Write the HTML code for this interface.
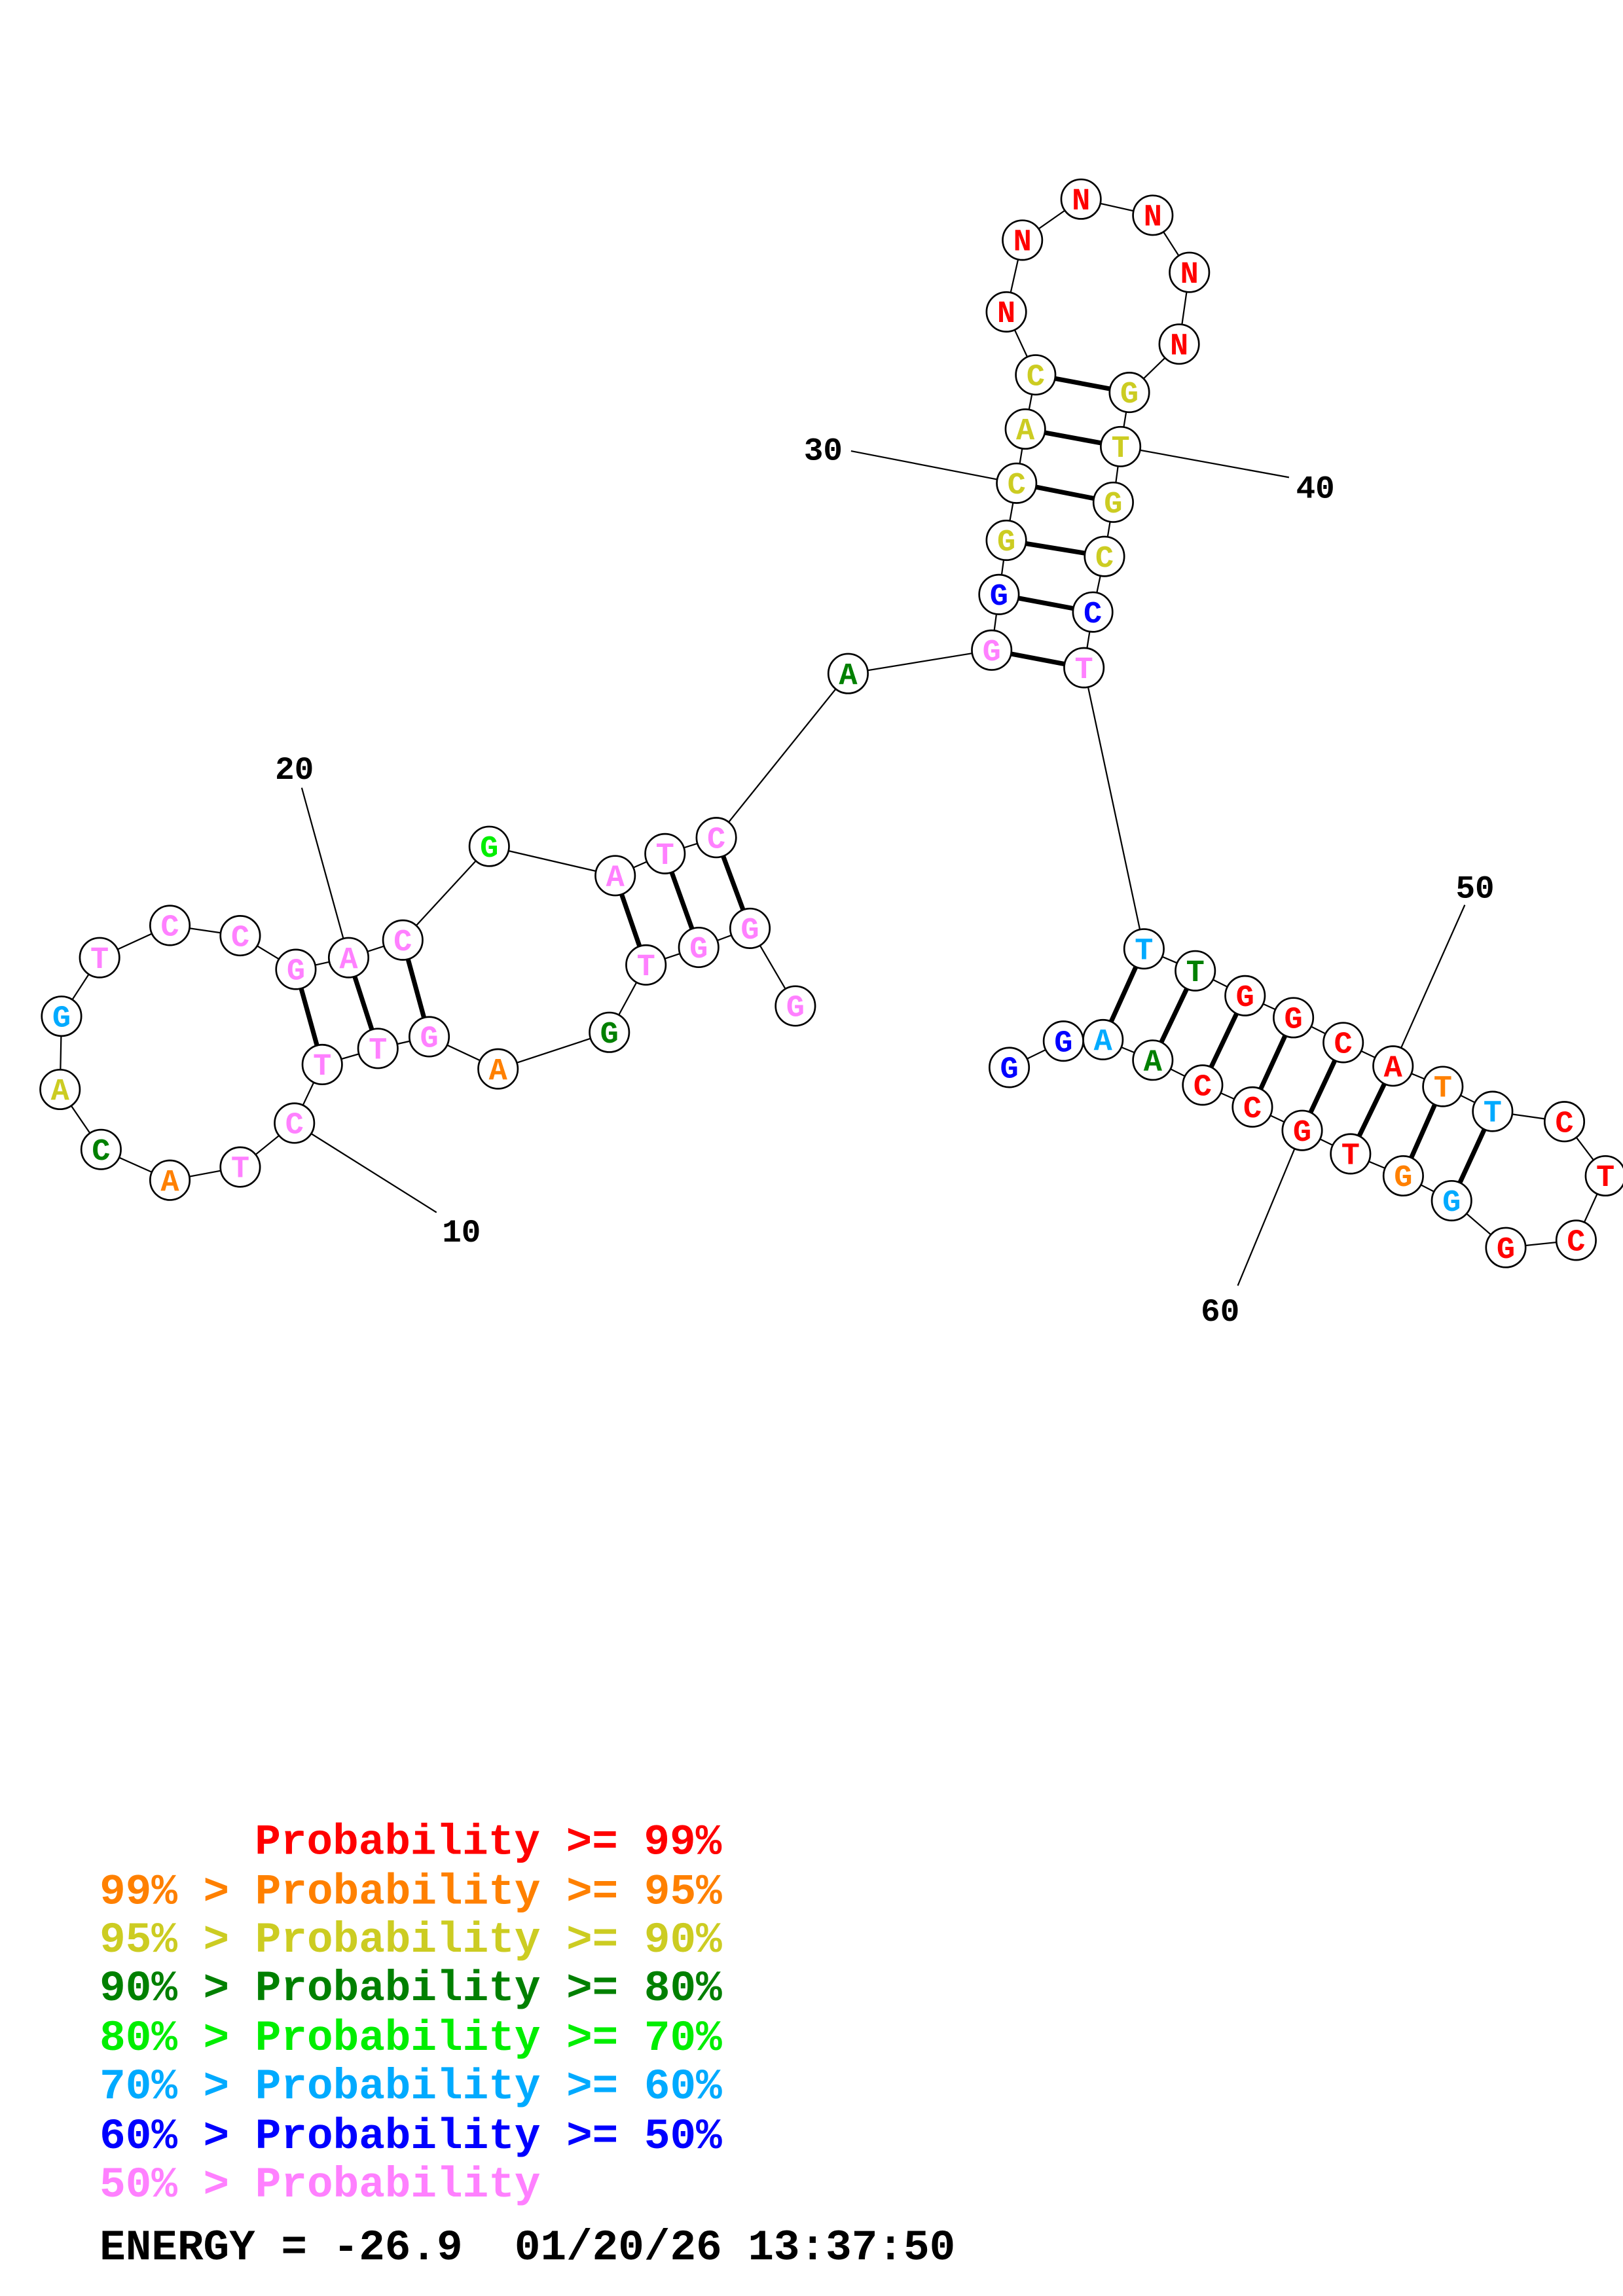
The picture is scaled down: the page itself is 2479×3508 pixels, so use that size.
<!DOCTYPE html>
<html><head><meta charset="utf-8"><style>
html,body{margin:0;padding:0;background:#fff}
svg{display:block}
text{font-family:"Liberation Mono",monospace;font-weight:bold;white-space:pre}
.n circle{fill:#fff;stroke:#000;stroke-width:1.2}
.n text{font-size:21px;text-anchor:middle}
.k{fill:#ff80ff}.r{fill:#ff0000}.o{fill:#ff8000}.y{fill:#cccc22}.d{fill:#008000}.g{fill:#00ee00}.c{fill:#00aaff}.b{fill:#0000ff}
.lg text{font-size:29.5px}
</style></head><body>
<svg width="2479" height="3508" viewBox="0 0 1108 1568" preserveAspectRatio="none" xmlns="http://www.w3.org/2000/svg">
<g stroke="#000" stroke-width="1" fill="none">
<polyline points="543,687 512,634 477,647 441,659 416,705 340,730 293,708 258,716 220,727 201,767 164,797 116,806 69,785 41,744 42,694 68,654 116,632 164,639 202,662 238,654 275,642 334,578 420,598 454,583 489,572 579,460 677,444 682,406 687,369 694,330 700,293 707,256 687,213 698,164 738,136 787,147 812,186 805,235 771,268 765,305 760,343 754,380 746,418 740,456 781,648 816,663 850,680 883,695 917,712 951,728 985,742 1019,759 1068,766 1096,803 1076,847 1028,852 991,820 958,803 922,788 889,772 855,756 821,741 787,724 753,710 726,711 689,729"/>
<line x1="201" y1="767" x2="298" y2="828"/>
<line x1="238" y1="654" x2="206" y2="538"/>
<line x1="694" y1="330" x2="581" y2="308"/>
<line x1="765" y1="305" x2="880" y2="326"/>
<line x1="951" y1="728" x2="1000" y2="618"/>
<line x1="889" y1="772" x2="845" y2="878"/>
</g>
<g stroke="#000" stroke-width="3.2">
<line x1="220" y1="727" x2="202" y2="662"/><line x1="258" y1="716" x2="238" y2="654"/><line x1="293" y1="708" x2="275" y2="642"/>
<line x1="441" y1="659" x2="420" y2="598"/><line x1="477" y1="647" x2="454" y2="583"/><line x1="512" y1="634" x2="489" y2="572"/>
<line x1="677" y1="444" x2="740" y2="456"/><line x1="682" y1="406" x2="746" y2="418"/><line x1="687" y1="369" x2="754" y2="380"/>
<line x1="694" y1="330" x2="760" y2="343"/><line x1="700" y1="293" x2="765" y2="305"/><line x1="707" y1="256" x2="771" y2="268"/>
<line x1="781" y1="648" x2="753" y2="710"/><line x1="816" y1="663" x2="787" y2="724"/><line x1="850" y1="680" x2="821" y2="741"/>
<line x1="883" y1="695" x2="855" y2="756"/><line x1="917" y1="712" x2="889" y2="772"/><line x1="951" y1="728" x2="922" y2="788"/>
<line x1="985" y1="742" x2="958" y2="803"/><line x1="1019" y1="759" x2="991" y2="820"/>
</g>
<g class="n">
<circle cx="543" cy="687" r="13.5"/><text x="543" y="694" class="k">G</text>
<circle cx="512" cy="634" r="13.5"/><text x="512" y="641" class="k">G</text>
<circle cx="477" cy="647" r="13.5"/><text x="477" y="654" class="k">G</text>
<circle cx="441" cy="659" r="13.5"/><text x="441" y="666" class="k">T</text>
<circle cx="416" cy="705" r="13.5"/><text x="416" y="712" class="d">G</text>
<circle cx="340" cy="730" r="13.5"/><text x="340" y="737" class="o">A</text>
<circle cx="293" cy="708" r="13.5"/><text x="293" y="715" class="k">G</text>
<circle cx="258" cy="716" r="13.5"/><text x="258" y="723" class="k">T</text>
<circle cx="220" cy="727" r="13.5"/><text x="220" y="734" class="k">T</text>
<circle cx="201" cy="767" r="13.5"/><text x="201" y="774" class="k">C</text>
<circle cx="164" cy="797" r="13.5"/><text x="164" y="804" class="k">T</text>
<circle cx="116" cy="806" r="13.5"/><text x="116" y="813" class="o">A</text>
<circle cx="69" cy="785" r="13.5"/><text x="69" y="792" class="d">C</text>
<circle cx="41" cy="744" r="13.5"/><text x="41" y="751" class="y">A</text>
<circle cx="42" cy="694" r="13.5"/><text x="42" y="701" class="c">G</text>
<circle cx="68" cy="654" r="13.5"/><text x="68" y="661" class="k">T</text>
<circle cx="116" cy="632" r="13.5"/><text x="116" y="639" class="k">C</text>
<circle cx="164" cy="639" r="13.5"/><text x="164" y="646" class="k">C</text>
<circle cx="202" cy="662" r="13.5"/><text x="202" y="669" class="k">G</text>
<circle cx="238" cy="654" r="13.5"/><text x="238" y="661" class="k">A</text>
<circle cx="275" cy="642" r="13.5"/><text x="275" y="649" class="k">C</text>
<circle cx="334" cy="578" r="13.5"/><text x="334" y="585" class="g">G</text>
<circle cx="420" cy="598" r="13.5"/><text x="420" y="605" class="k">A</text>
<circle cx="454" cy="583" r="13.5"/><text x="454" y="590" class="k">T</text>
<circle cx="489" cy="572" r="13.5"/><text x="489" y="579" class="k">C</text>
<circle cx="579" cy="460" r="13.5"/><text x="579" y="467" class="d">A</text>
<circle cx="677" cy="444" r="13.5"/><text x="677" y="451" class="k">G</text>
<circle cx="682" cy="406" r="13.5"/><text x="682" y="413" class="b">G</text>
<circle cx="687" cy="369" r="13.5"/><text x="687" y="376" class="y">G</text>
<circle cx="694" cy="330" r="13.5"/><text x="694" y="337" class="y">C</text>
<circle cx="700" cy="293" r="13.5"/><text x="700" y="300" class="y">A</text>
<circle cx="707" cy="256" r="13.5"/><text x="707" y="263" class="y">C</text>
<circle cx="687" cy="213" r="13.5"/><text x="687" y="220" class="r">N</text>
<circle cx="698" cy="164" r="13.5"/><text x="698" y="171" class="r">N</text>
<circle cx="738" cy="136" r="13.5"/><text x="738" y="143" class="r">N</text>
<circle cx="787" cy="147" r="13.5"/><text x="787" y="154" class="r">N</text>
<circle cx="812" cy="186" r="13.5"/><text x="812" y="193" class="r">N</text>
<circle cx="805" cy="235" r="13.5"/><text x="805" y="242" class="r">N</text>
<circle cx="771" cy="268" r="13.5"/><text x="771" y="275" class="y">G</text>
<circle cx="765" cy="305" r="13.5"/><text x="765" y="312" class="y">T</text>
<circle cx="760" cy="343" r="13.5"/><text x="760" y="350" class="y">G</text>
<circle cx="754" cy="380" r="13.5"/><text x="754" y="387" class="y">C</text>
<circle cx="746" cy="418" r="13.5"/><text x="746" y="425" class="b">C</text>
<circle cx="740" cy="456" r="13.5"/><text x="740" y="463" class="k">T</text>
<circle cx="781" cy="648" r="13.5"/><text x="781" y="655" class="c">T</text>
<circle cx="816" cy="663" r="13.5"/><text x="816" y="670" class="d">T</text>
<circle cx="850" cy="680" r="13.5"/><text x="850" y="687" class="r">G</text>
<circle cx="883" cy="695" r="13.5"/><text x="883" y="702" class="r">G</text>
<circle cx="917" cy="712" r="13.5"/><text x="917" y="719" class="r">C</text>
<circle cx="951" cy="728" r="13.5"/><text x="951" y="735" class="r">A</text>
<circle cx="985" cy="742" r="13.5"/><text x="985" y="749" class="o">T</text>
<circle cx="1019" cy="759" r="13.5"/><text x="1019" y="766" class="c">T</text>
<circle cx="1068" cy="766" r="13.5"/><text x="1068" y="773" class="r">C</text>
<circle cx="1096" cy="803" r="13.5"/><text x="1096" y="810" class="r">T</text>
<circle cx="1076" cy="847" r="13.5"/><text x="1076" y="854" class="r">C</text>
<circle cx="1028" cy="852" r="13.5"/><text x="1028" y="859" class="r">G</text>
<circle cx="991" cy="820" r="13.5"/><text x="991" y="827" class="c">G</text>
<circle cx="958" cy="803" r="13.5"/><text x="958" y="810" class="o">G</text>
<circle cx="922" cy="788" r="13.5"/><text x="922" y="795" class="r">T</text>
<circle cx="889" cy="772" r="13.5"/><text x="889" y="779" class="r">G</text>
<circle cx="855" cy="756" r="13.5"/><text x="855" y="763" class="r">C</text>
<circle cx="821" cy="741" r="13.5"/><text x="821" y="748" class="r">C</text>
<circle cx="787" cy="724" r="13.5"/><text x="787" y="731" class="d">A</text>
<circle cx="753" cy="710" r="13.5"/><text x="753" y="717" class="c">A</text>
<circle cx="726" cy="711" r="13.5"/><text x="726" y="718" class="b">G</text>
<circle cx="689" cy="729" r="13.5"/><text x="689" y="736" class="b">G</text>
</g>
<g style="font-size:22px" fill="#000">
<text x="315" y="848" text-anchor="middle">10</text>
<text x="201" y="532" text-anchor="middle">20</text>
<text x="562" y="314" text-anchor="middle">30</text>
<text x="898" y="340" text-anchor="middle">40</text>
<text x="1007" y="613" text-anchor="middle">50</text>
<text x="833" y="902" text-anchor="middle">60</text>
</g>
<g class="lg">
<text x="174" y="1266" class="r">Probability &gt;= 99%</text>
<text x="68" y="1300" class="o">99% &gt; Probability &gt;= 95%</text>
<text x="68" y="1333" class="y">95% &gt; Probability &gt;= 90%</text>
<text x="68" y="1366" class="d">90% &gt; Probability &gt;= 80%</text>
<text x="68" y="1400" class="g">80% &gt; Probability &gt;= 70%</text>
<text x="68" y="1433" class="c">70% &gt; Probability &gt;= 60%</text>
<text x="68" y="1467" class="b">60% &gt; Probability &gt;= 50%</text>
<text x="68" y="1500" class="k">50% &gt; Probability</text>
<text x="68" y="1543" fill="#000">ENERGY = -26.9  01/20/26 13:37:50</text>
</g>
</svg>
</body></html>
